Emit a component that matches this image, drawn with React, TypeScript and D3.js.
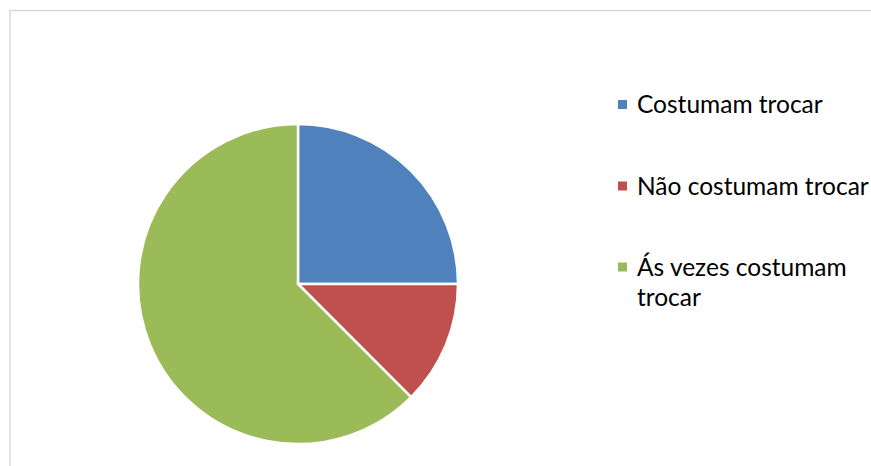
import React, { useEffect, useRef } from "react";
import * as d3 from "d3";

const categories = ["Costumam trocar", "Não costumam trocar", "Ás vezes costumam trocar"];
const values = [25, 12.5, 62.5];
const colors = ["#4F81BD", "#C0504D", "#9BBB59"];

const W = 871;
const H = 466;

export default function App() {
  const ref = useRef<SVGSVGElement | null>(null);

  useEffect(() => {
    const svg = d3.select(ref.current);
    svg.selectAll("*").remove();

    svg
      .append("rect")
      .attr("x", 10)
      .attr("y", 10.5)
      .attr("width", 900)
      .attr("height", 500)
      .attr("fill", "#ffffff")
      .attr("stroke", "#d9d9d9")
      .attr("stroke-width", 1.5);

    const cx = 298;
    const cy = 284;
    const r = 160;

    const pie = d3.pie<number>().sort(null).value((d) => d);
    const arc = d3.arc<d3.PieArcDatum<number>>().innerRadius(0).outerRadius(r);

    const g = svg.append("g").attr("transform", `translate(${cx},${cy})`);
    g.selectAll("path")
      .data(pie(values))
      .join("path")
      .attr("d", arc)
      .attr("fill", (_, i) => colors[i])
      .attr("stroke", "#ffffff")
      .attr("stroke-width", 2.5)
      .attr("stroke-linejoin", "miter");

    const legendX = 618;
    const textX = 637;
    const maxW = 245;
    const fontSize = 24.5;
    const lineH = 30;
    const rowY = [104.5, 186, 267];

    const lg = svg
      .append("g")
      .attr("font-family", "Lato, 'Open Sans', sans-serif")
      .attr("font-size", fontSize)
      .attr("fill", "#000");

    categories.forEach((label, i) => {
      lg.append("rect")
        .attr("x", legendX)
        .attr("y", rowY[i] - 4.5)
        .attr("width", 9)
        .attr("height", 9)
        .attr("fill", colors[i]);

      const text = lg.append("text").attr("x", textX).attr("y", rowY[i]);
      const words = label.split(" ");
      let line: string[] = [];
      let lineNo = 0;
      let tspan = text.append("tspan").attr("x", textX).attr("dy", "0.35em");
      for (const w of words) {
        line.push(w);
        tspan.text(line.join(" "));
        const node = tspan.node() as SVGTSpanElement;
        if (node.getComputedTextLength() > maxW && line.length > 1) {
          line.pop();
          tspan.text(line.join(" "));
          line = [w];
          lineNo++;
          tspan = text
            .append("tspan")
            .attr("x", textX)
            .attr("y", rowY[i] + lineNo * lineH)
            .attr("dy", "0.35em")
            .text(w);
        }
      }
    });
  }, []);

  return (
    <svg
      ref={ref}
      width={W}
      height={H}
      style={{ position: "absolute", left: 0, top: 0, display: "block" }}
    />
  );
}
